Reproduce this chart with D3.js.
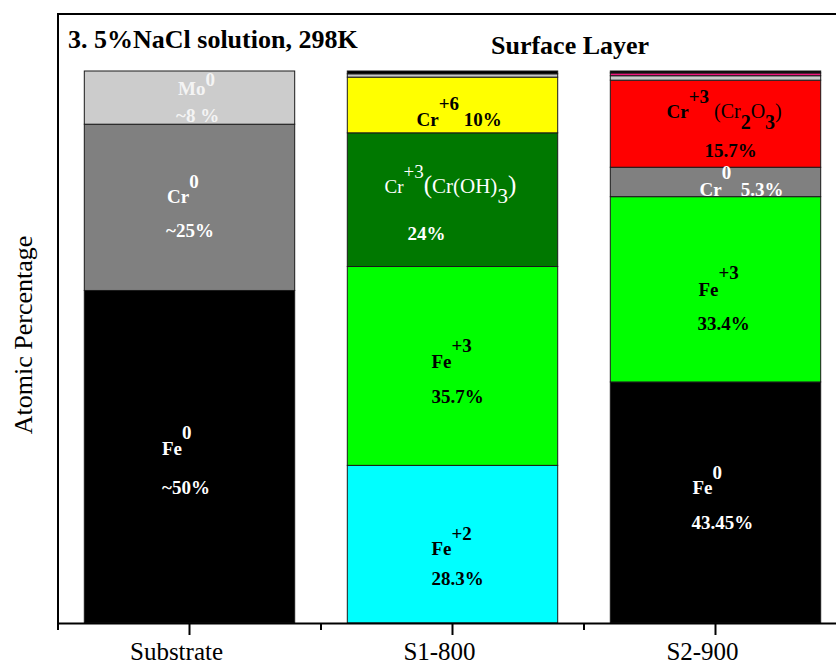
<!DOCTYPE html>
<html>
<head>
<meta charset="utf-8">
<script src="https://cdn.jsdelivr.net/npm/d3@7/dist/d3.min.js"></script>
<style>
  html, body { margin: 0; padding: 0; background: #fff; }
  svg { display: block; }
</style>
</head>
<body>
<svg id="chart" width="836" height="664"></svg>
<script>
// Samples along the x axis
const categories = ["Substrate", "S1-800", "S2-900"];

// Species in each surface layer, listed bottom to top, with atomic percentages
const substrateSpecies = ["Fe0", "Cr0", "Mo0"];
const substrateValues  = [50, 25, 8];

const s1Species = ["Fe2+", "Fe3+", "Cr3+ (Cr(OH)3)", "Cr6+", "minor-a", "minor-b"];
const s1Values  = [28.3, 35.7, 24, 10, 0.6, 0.5];

const s2Species = ["Fe0", "Fe3+", "Cr0", "Cr3+ (Cr2O3)", "minor-a", "minor-b", "minor-c"];
const s2Values  = [43.45, 33.4, 5.3, 15.7, 0.8, 0.5, 0.35];

// Fill colour for each species, per sample
const substrateColors = ["#000000", "#808080", "#cccccc"];
const s1Colors = ["#00ffff", "#00ff00", "#007800", "#ffff00", "#c8c8c8", "#000000"];
const s2Colors = ["#000000", "#00ff00", "#808080", "#ff0000", "#c8c8c8", "#f0147d", "#000000"];

const samples = [
  { name: categories[0], species: substrateSpecies, values: substrateValues, colors: substrateColors },
  { name: categories[1], species: s1Species, values: s1Values, colors: s1Colors },
  { name: categories[2], species: s2Species, values: s2Values, colors: s2Colors }
];

// Text placed inside the segments: offsets from the bar centre / segment middle
const segmentLabels = [
  { cat: 0, seg: 0, fill: "#fff", lines: [
    { dx: -27.5, dy: -2, runs: [{ t: "Fe" }, { t: "0", s: "sup", r: 16 }] },
    { dx: -27.5, dy: 37, runs: [{ t: "~50%" }] } ] },
  { cat: 0, seg: 1, fill: "#fff", lines: [
    { dx: -22.5, dy: -4.4, runs: [{ t: "Cr" }, { t: "0", s: "sup", r: 15 }] },
    { dx: -23.5, dy: 29.6, runs: [{ t: "~25%" }] } ] },
  { cat: 0, seg: 2, fill: "#f4f4f4", lines: [
    { dx: -11.5, dy: -2.6, runs: [{ t: "Mo" }, { t: "0", s: "sup", r: 9 }] },
    { dx: -13.5, dy: 24.4, runs: [{ t: "~8 %" }] } ] },

  { cat: 1, seg: 0, fill: "#000", lines: [
    { dx: -21, dy: 11, runs: [{ t: "Fe" }, { t: "+2", s: "sup", r: 15 }] },
    { dx: -21, dy: 41, runs: [{ t: "28.3%" }] } ] },
  { cat: 1, seg: 1, fill: "#000", lines: [
    { dx: -21, dy: 2, runs: [{ t: "Fe" }, { t: "+3", s: "sup", r: 16 }] },
    { dx: -21, dy: 37, runs: [{ t: "35.7%" }] } ] },
  { cat: 1, seg: 2, fill: "#fff", lines: [
    { dx: -68, dy: -7, runs: [{ t: "Cr", w: "normal" }, { t: "+3", s: "sup", r: 15, w: "normal" },
      { t: "(", w: "normal", size: 25 }, { t: "Cr(OH)", w: "normal", size: 21 },
      { t: "3", s: "sub", r: 10, w: "normal", size: 21 }, { t: ")", w: "normal", size: 25 }] },
    { dx: -45, dy: 40, runs: [{ t: "24%" }] } ] },
  { cat: 1, seg: 3, fill: "#000", lines: [
    { dx: -36, dy: 21, runs: [{ t: "Cr" }, { t: "+6", s: "sup", r: 16 }, { t: " 10%" }] } ] },

  { cat: 2, seg: 0, fill: "#fff", lines: [
    { dx: -23, dy: -8, runs: [{ t: "Fe" }, { t: "0", s: "sup", r: 15 }] },
    { dx: -24, dy: 27, runs: [{ t: "43.45%" }] } ] },
  { cat: 2, seg: 1, fill: "#000", lines: [
    { dx: -17, dy: 7, runs: [{ t: "Fe" }, { t: "+3", s: "sup", r: 17 }] },
    { dx: -18, dy: 41, runs: [{ t: "33.4%" }] } ] },
  { cat: 2, seg: 2, fill: "#fff", lines: [
    { dx: -16, dy: 14, runs: [{ t: "Cr" }, { t: "0", s: "sup", r: 17 }, { t: "  5.3%" }] } ] },
  { cat: 2, seg: 3, fill: "#000", lines: [
    { dx: -49, dy: -6, runs: [{ t: "Cr" }, { t: "+3", s: "sup", r: 15 }, { t: " (Cr", w: "normal", size: 20 },
      { t: "2", s: "sub", r: 11, size: 20 }, { t: "O", w: "normal", size: 20 },
      { t: "3", s: "sub", r: 11, size: 20 }, { t: ")", w: "normal", size: 20 }] },
    { dx: -11, dy: 33, runs: [{ t: "15.7%" }] } ] }
];

const FONT = "'Liberation Serif', 'Times New Roman', Tinos, 'DejaVu Serif', serif";

const svg = d3.select("#chart").attr("font-family", FONT);
const plot = { left: 58, top: 14, right: 847, bottom: 623 };

const x = d3.scaleBand()
  .domain(categories)
  .range([plot.left, plot.right])
  .paddingInner(0.2)
  .paddingOuter(0.1);

// Each column is drawn as a share of its own total (100% stacked)
const y = d3.scaleLinear().domain([0, 1]).range([plot.bottom, 71]);

// Cumulative stacking per sample
samples.forEach(s => {
  const total = d3.sum(s.values);
  const tops = d3.cumsum(s.values);
  s.segments = s.values.map((v, i) => ({
    species: s.species[i],
    value: v,
    color: s.colors[i],
    y0: (tops[i] - v) / total,
    y1: tops[i] / total
  }));
});

// Frame top edge
svg.append("line")
  .attr("x1", plot.left).attr("x2", plot.right)
  .attr("y1", plot.top).attr("y2", plot.top)
  .attr("stroke", "#000").attr("stroke-width", 2);

// Bars
const bars = svg.append("g");
samples.forEach(s => {
  bars.selectAll(null)
    .data(s.segments)
    .join("rect")
    .attr("x", x(s.name))
    .attr("width", x.bandwidth())
    .attr("y", d => y(d.y1))
    .attr("height", d => y(d.y0) - y(d.y1))
    .attr("fill", d => d.color)
    .attr("stroke", "#1a1a1a")
    .attr("stroke-width", 1);
});

// Segment labels with super/subscripts
const labelLayer = svg.append("g")
  .attr("font-family", FONT)
  .attr("font-size", 19)
  .attr("font-weight", "bold");

segmentLabels.forEach(lab => {
  const s = samples[lab.cat];
  const seg = s.segments[lab.seg];
  const cx = x(s.name) + x.bandwidth() / 2;
  const cy = (y(seg.y0) + y(seg.y1)) / 2;
  lab.lines.forEach(line => {
    const t = labelLayer.append("text")
      .attr("x", cx + line.dx)
      .attr("y", cy + line.dy)
      .attr("fill", lab.fill)
      .style("white-space", "pre");
    let shift = 0;
    line.runs.forEach(run => {
      const target = run.s === "sup" ? -run.r : run.s === "sub" ? run.r : 0;
      const ts = t.append("tspan").attr("dy", target - shift).text(run.t);
      if (run.w) ts.attr("font-weight", run.w);
      if (run.size) ts.attr("font-size", run.size);
      shift = target;
    });
  });
});

// X axis: major ticks at samples, minor ticks between
const xAxis = d3.axisBottom(x).tickSize(12).tickSizeOuter(0).tickPadding(14);
const gx = svg.append("g")
  .attr("transform", `translate(0,${plot.bottom})`)
  .call(xAxis)
  .attr("font-family", FONT);
gx.select(".domain").attr("stroke", "#000").attr("stroke-width", 2);
gx.selectAll(".tick line").attr("stroke", "#000").attr("stroke-width", 2);
gx.selectAll(".tick text")
  .attr("font-size", 25)
  .attr("font-family", FONT)
  .attr("fill", "#000")
  .attr("dx", -13)
  .attr("dy", 0)
  .attr("y", 37);

const boundaries = d3.range(categories.length + 1)
  .map(i => plot.left + i * x.step());
gx.selectAll(".minor")
  .data(boundaries)
  .join("line")
  .attr("class", "minor")
  .attr("x1", d => d).attr("x2", d => d)
  .attr("y1", 0).attr("y2", 7)
  .attr("stroke", "#000").attr("stroke-width", 2);

// Left axis line
svg.append("line")
  .attr("x1", plot.left).attr("x2", plot.left)
  .attr("y1", plot.top - 1).attr("y2", plot.bottom + 1)
  .attr("stroke", "#000").attr("stroke-width", 2);

// Titles
svg.append("text")
  .attr("x", 68).attr("y", 48)
  .attr("font-family", FONT)
  .attr("font-size", 26).attr("font-weight", "bold")
  .text("3. 5%NaCl solution, 298K");

svg.append("text")
  .attr("x", 491).attr("y", 54)
  .attr("font-family", FONT)
  .attr("font-size", 26).attr("font-weight", "bold")
  .text("Surface Layer");

svg.append("text")
  .attr("transform", "translate(32,335) rotate(-90)")
  .attr("text-anchor", "middle")
  .attr("font-family", FONT)
  .attr("font-size", 26)
  .text("Atomic Percentage");
</script>
</body>
</html>
